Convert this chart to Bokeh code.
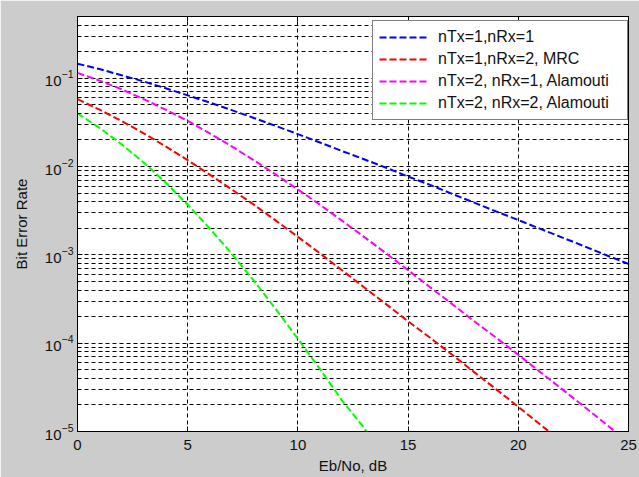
from bokeh.plotting import figure
from bokeh.models import FixedTicker, LogAxis, LinearAxis, CustomJSTickFormatter
from bokeh.embed import file_html
from bokeh.resources import INLINE

# ---- data ----
ebno_db = list(range(0, 26))
ber_siso = [0.146, 0.127, 0.108, 0.092, 0.077, 0.064, 0.053, 0.0435, 0.0355, 0.0288,
            0.0233, 0.0187, 0.0150, 0.0121, 0.0097, 0.0077, 0.0062, 0.0049, 0.0039, 0.0031,
            0.00248, 0.00197, 0.00157, 0.00125, 0.00099, 0.00079]
ebno_mrc = list(range(0, 23))
ber_mrc = [0.058, 0.044, 0.0328, 0.0238, 0.0169, 0.0118, 0.0081, 0.0055, 0.0037, 0.00244,
           0.0016, 0.00104, 0.00067, 0.00043, 0.000277, 0.000177, 0.000115, 7.4e-5, 4.7e-5,
           3.0e-5, 1.9e-5, 1.2e-5, 7.5e-6]
ber_ala21 = [0.115, 0.094, 0.075, 0.058, 0.044, 0.0328, 0.0238, 0.0169, 0.0118, 0.0081,
             0.0055, 0.0037, 0.00244, 0.0016, 0.00104, 0.00067, 0.00043, 0.000277, 0.000177,
             0.000115, 7.4e-5, 4.7e-5, 3.0e-5, 1.9e-5, 1.2e-5, 7.5e-6]
ebno_ala22 = list(range(0, 15))
ber_ala22 = [0.040, 0.0274, 0.0179, 0.0111, 0.0066, 0.0037, 0.00199, 0.00103, 0.00051,
             0.000243, 0.000112, 5.1e-5, 2.25e-5, 1.1e-5, 4.5e-6]

labels = ["nTx=1,nRx=1", "nTx=1,nRx=2, MRC", "nTx=2, nRx=1, Alamouti", "nTx=2, nRx=2, Alamouti"]
x_ticks = [0, 5, 10, 15, 20, 25]
y_ticks = [1e-5, 1e-4, 1e-3, 1e-2, 1e-1]
y_minor = [k * 10.0 ** e for e in range(-5, 0) for k in range(2, 10)]

FONT = "Liberation Sans"
FS = "15px"

p = figure(width=639, height=477, y_axis_type="log",
           x_range=(0, 25), y_range=(1e-5, 0.5),
           output_backend="svg", toolbar_location=None,
           min_border_left=77, min_border_right=11, min_border_top=16, min_border_bottom=46)
p.border_fill_color = "#CCCCCC"
p.background_fill_color = "white"
p.outline_line_color = "black"
p.outline_line_width = 1

for ax in (p.xaxis[0], p.yaxis[0]):
    ax.axis_line_color = "black"
    ax.major_tick_in = 5
    ax.major_tick_out = 0
    ax.minor_tick_in = 3
    ax.minor_tick_out = 0
    ax.major_label_text_font = FONT
    ax.major_label_text_font_size = FS
    ax.major_label_text_color = "#111111"
    ax.axis_label_text_font = FONT
    ax.axis_label_text_font_size = FS
    ax.axis_label_text_font_style = "normal"
    ax.axis_label_text_color = "#111111"

p.xaxis.ticker = FixedTicker(ticks=x_ticks)
p.yaxis.ticker = FixedTicker(ticks=y_ticks, minor_ticks=y_minor)
p.xaxis.axis_label = "Eb/No, dB"
p.yaxis.axis_label = "Bit Error Rate"
p.xaxis.major_label_standoff = 8
p.xaxis.axis_label_standoff = 4
p.yaxis.major_label_standoff = 4
p.yaxis.axis_label_standoff = 12

# box axes (top/right) with inner ticks, no labels
blank = CustomJSTickFormatter(code="return ' '")
top = LinearAxis(ticker=FixedTicker(ticks=x_ticks), formatter=blank,
                 major_label_text_font_size="2px", major_label_text_alpha=0,
                 major_label_standoff=0,
                 major_tick_in=5, major_tick_out=0, minor_tick_out=0, axis_line_color="black")
right = LogAxis(ticker=FixedTicker(ticks=y_ticks, minor_ticks=y_minor), formatter=blank,
                major_label_text_font_size="2px", major_label_text_alpha=0,
                major_label_standoff=0,
                major_tick_in=5, major_tick_out=0, minor_tick_in=3, minor_tick_out=0,
                axis_line_color="black")
p.add_layout(top, "above")
p.add_layout(right, "right")

# grids
p.xgrid.ticker = FixedTicker(ticks=x_ticks)
p.ygrid.ticker = FixedTicker(ticks=y_ticks, minor_ticks=y_minor)
p.xgrid.grid_line_color = "black"
p.xgrid.grid_line_dash = "4 3"
p.ygrid.grid_line_color = "black"
p.ygrid.grid_line_dash = "4 3"
p.ygrid.minor_grid_line_color = "black"
p.ygrid.minor_grid_line_dash = "4 3"

dash = "7 3"
p.line(ebno_db, ber_siso, line_color="#0000FF", line_width=2, line_dash=dash, legend_label=labels[0])
p.line(ebno_mrc, ber_mrc, line_color="#FF0000", line_width=2, line_dash=dash, legend_label=labels[1])
p.line(ebno_db, ber_ala21, line_color="#FF00FF", line_width=2, line_dash=dash, legend_label=labels[2])
p.line(ebno_ala22, ber_ala22, line_color="#00FF00", line_width=2, line_dash=dash, legend_label=labels[3])

lg = p.legend[0]
lg.location = (295, 311)
lg.margin = 0
lg.padding = 6
lg.spacing = 2
lg.glyph_width = 49
lg.glyph_height = 20
lg.label_height = 20
lg.label_width = 183
lg.label_standoff = 10
lg.label_text_font = FONT
lg.label_text_font_size = "16px"
lg.label_text_color = "#111111"
lg.border_line_color = "black"
lg.border_line_width = 1
lg.background_fill_color = "white"
lg.background_fill_alpha = 1

open("out.html", "w").write(file_html(p, INLINE))
